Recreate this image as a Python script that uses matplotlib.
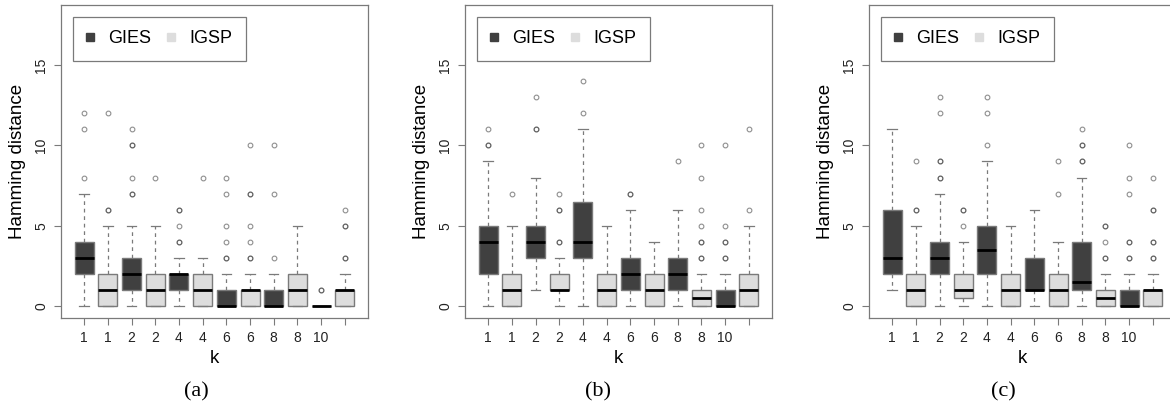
import matplotlib
matplotlib.use("Agg")
import matplotlib.pyplot as plt
from matplotlib.lines import Line2D

plt.rcParams['font.family'] = ['Liberation Sans', 'DejaVu Sans']

# order of boxes: GIES k=1, IGSP k=1, GIES k=2, IGSP k=2, ... , GIES k=10, IGSP k=10
methods = ['GIES', 'IGSP'] * 6
tick_labels = ['1', '1', '2', '2', '4', '4', '6', '6', '8', '8', '10', '']
panel_names = ['(a)', '(b)', '(c)']

# panel (a)
a_q1 = [2, 0, 1, 0, 1, 0, 0, 0, 0, 0, 0, 0]
a_med = [3, 1, 2, 1, 2, 1, 0, 1, 0, 1, 0, 1]
a_q3 = [4, 2, 3, 2, 2, 2, 1, 1, 1, 2, 0, 1]
a_lo = [0, 0, 0, 0, 0, 0, 0, 0, 0, 0, 0, 0]
a_hi = [7, 5, 5, 5, 3, 3, 2, 2, 2, 5, 0, 2]
a_out = [[8, 11, 12], [6, 6, 12], [7, 7, 8, 10, 10, 11], [8],
         [4, 4, 5, 6, 6], [8], [3, 3, 4, 5, 7, 8], [3, 3, 4, 5, 7, 7, 10],
         [3, 7, 10], [], [1, 1], [3, 3, 5, 5, 6]]

# panel (b)
b_q1 = [2, 0, 3, 1, 3, 0, 1, 0, 1, 0, 0, 0]
b_med = [4, 1, 4, 1, 4, 1, 2, 1, 2, 0.5, 0, 1]
b_q3 = [5, 2, 5, 2, 6.5, 2, 3, 2, 3, 1, 1, 2]
b_lo = [0, 0, 1, 0, 0, 0, 0, 0, 0, 0, 0, 0]
b_hi = [9, 5, 8, 3, 11, 5, 6, 4, 6, 2, 2, 5]
b_out = [[10, 10, 11], [7], [11, 11, 13], [4, 4, 6, 6, 7],
         [12, 14], [], [7, 7], [],
         [9], [3, 3, 4, 4, 5, 6, 8, 10], [3, 3, 4, 4, 5, 10], [6, 11]]

# panel (c)
c_q1 = [2, 0, 2, 0.5, 2, 0, 1, 0, 1, 0, 0, 0]
c_med = [3, 1, 3, 1, 3.5, 1, 1, 1, 1.5, 0.5, 0, 1]
c_q3 = [6, 2, 4, 2, 5, 2, 3, 2, 4, 1, 1, 1]
c_lo = [1, 0, 0, 0, 0, 0, 0, 0, 0, 0, 0, 0]
c_hi = [11, 5, 7, 4, 9, 5, 6, 4, 8, 2, 2, 2]
c_out = [[], [6, 6, 9], [8, 8, 9, 9, 12, 13], [5, 6, 6],
         [10, 12, 13], [], [], [7, 9],
         [9, 9, 10, 10, 11], [3, 3, 4, 5, 5], [3, 3, 4, 4, 7, 8, 10], [3, 3, 4, 4, 6, 6, 8]]

panels = [
    (a_q1, a_med, a_q3, a_lo, a_hi, a_out),
    (b_q1, b_med, b_q3, b_lo, b_hi, b_out),
    (c_q1, c_med, c_q3, c_lo, c_hi, c_out),
]

colors = {'GIES': '#404040', 'IGSP': '#dddddd'}
edge = '#7a7a7a'

W, H = 1170, 404
fig = plt.figure(figsize=(W / 100, H / 100), dpi=100)

lefts = [61, 465, 869]
label_x = [196, 598, 1003]

for i, (q1, med, q3, lo, hi, out) in enumerate(panels):
    ax = fig.add_axes([lefts[i] / W, 86 / H, 307 / W, 313 / H])
    stats = []
    for j in range(len(methods)):
        stats.append(dict(q1=q1[j], med=med[j], q3=q3[j],
                          whislo=lo[j], whishi=hi[j], fliers=out[j]))
    pos = list(range(1, len(methods) + 1))
    bp = ax.bxp(stats, positions=pos, widths=0.8, capwidths=0.4,
                patch_artist=True, showfliers=True,
                boxprops=dict(edgecolor=edge, linewidth=1.0),
                medianprops=dict(color='black', linewidth=2.0, solid_capstyle='butt'),
                whiskerprops=dict(color=edge, linestyle=(0, (3, 3)), linewidth=0.9),
                capprops=dict(color=edge, linewidth=0.9),
                flierprops=dict(marker='o', markersize=3.4, markerfacecolor='none',
                                markeredgecolor='#333333', alpha=0.55,
                                markeredgewidth=0.8))
    for patch, m in zip(bp['boxes'], methods):
        patch.set_facecolor(colors[m])

    ax.set_xlim(0.02, 12.98)
    ax.set_ylim(-0.72, 18.72)
    ax.set_xticks(pos)
    ax.set_xticklabels(tick_labels, fontsize=10, color='#222222')
    ax.set_yticks([0, 5, 10, 15])
    ax.set_yticklabels(['0', '5', '10', '15'], fontsize=10, rotation=90,
                       va='center', color='#222222')
    ax.tick_params(length=5, width=0.8, color=edge, pad=4)
    for s in ax.spines.values():
        s.set_color(edge)
        s.set_linewidth(0.9)
    ax.set_xlabel('k', fontsize=13.5, labelpad=4)
    ax.set_ylabel('Hamming distance', fontsize=13.5, labelpad=6)

    handles = [Line2D([], [], linestyle='none', marker='s', markersize=6.3,
                      markerfacecolor=colors[m], markeredgecolor=colors[m])
               for m in ['GIES', 'IGSP']]
    leg = ax.legend(handles, ['GIES', 'IGSP'], ncol=2, loc='upper left',
                    bbox_to_anchor=(0.039, 0.962), borderaxespad=0,
                    fontsize=13, frameon=True, fancybox=False, framealpha=1,
                    edgecolor=edge, handlelength=0.35, handletextpad=0.85,
                    columnspacing=0.9, borderpad=0.75)
    leg.get_frame().set_linewidth(0.9)

    fig.text(label_x[i] / W, 1 - 392 / H, panel_names[i], ha='center', va='center',
             fontsize=16, family=['Liberation Serif', 'DejaVu Serif'])

fig.savefig('out.png', dpi=100)
